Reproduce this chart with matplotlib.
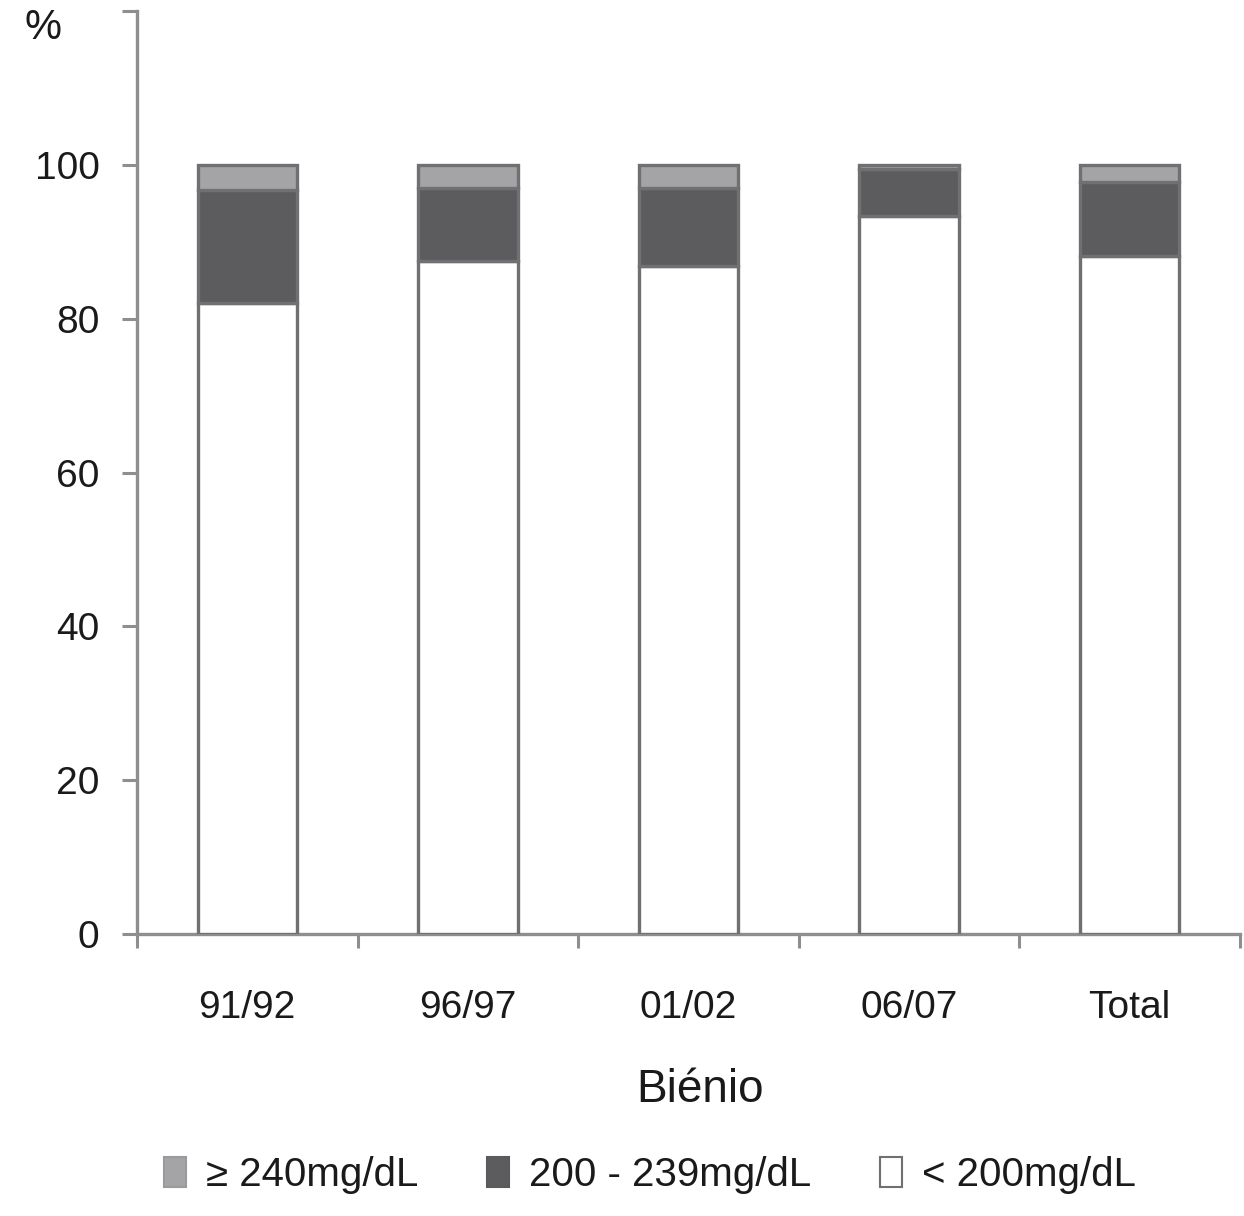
import matplotlib
matplotlib.use("Agg")
import matplotlib.pyplot as plt
from matplotlib.patches import Patch
import numpy as np

categories = ["91/92", "96/97", "01/02", "06/07", "Total"]
below_200 = [82.0, 87.5, 86.8, 93.4, 88.2]
between_200_239 = [14.7, 9.5, 10.2, 6.1, 9.6]
above_240 = [3.3, 3.0, 3.0, 0.5, 2.2]
series_labels = ["≥ 240mg/dL", "200 - 239mg/dL", "< 200mg/dL"]
yticks = [0, 20, 40, 60, 80, 100, 120]
ytick_labels = ["0", "20", "40", "60", "80", "100", ""]

c_light = "#a4a4a6"
c_dark = "#5c5c5e"
c_white = "#ffffff"
edge = "#707072"
axis_c = "#8e8e90"

plt.rcParams['font.family'] = ['Liberation Sans', 'DejaVu Sans']

fig = plt.figure(figsize=(12.44, 12.16), dpi=100)
ax = fig.add_axes([0.1101, 0.2319, 0.8867, 0.7590])

x = np.arange(len(categories)) + 0.5
w = 0.45
b1 = np.array(below_200)
b2 = b1 + np.array(between_200_239)
ax.bar(x, below_200, w, color=c_white, edgecolor=edge, linewidth=2.4, zorder=3)
ax.bar(x, between_200_239, w, bottom=b1, color=c_dark, edgecolor=edge, linewidth=2.4, zorder=3)
ax.bar(x, above_240, w, bottom=b2, color=c_light, edgecolor=edge, linewidth=2.4, zorder=3)

ax.set_xlim(0, len(categories))
ax.set_ylim(0, 120)

for s in ["top", "right"]:
    ax.spines[s].set_visible(False)
for s in ["left", "bottom"]:
    ax.spines[s].set_color(axis_c)
    ax.spines[s].set_linewidth(2.4)

ax.set_yticks(yticks)
ax.set_yticklabels(ytick_labels)
ax.tick_params(axis='y', direction='out', length=11, width=2.2, color=axis_c,
               pad=16, labelsize=28, labelcolor="#1a1a1a")

ax.set_xticks(np.arange(len(categories) + 1))
ax.set_xticklabels([])
ax.set_xticks(x, minor=True)
ax.set_xticklabels(categories, minor=True)
ax.tick_params(axis='x', which='major', direction='out', length=10, width=2.2, color=axis_c)
ax.tick_params(axis='x', which='minor', length=0, pad=40, labelsize=28, labelcolor="#1a1a1a")

fig.text(25 / 1244, 1 - 28 / 1216, "%", fontsize=30, ha='left', va='center', color="#1a1a1a")
fig.text(700 / 1244, 1 - 1090 / 1216, "Biénio", fontsize=33, ha='center', va='center', color="#1a1a1a")

handles = [Patch(facecolor=c_light, edgecolor="#9a9a9c", linewidth=1.5),
           Patch(facecolor=c_dark, edgecolor="#5a5a5c", linewidth=1.5),
           Patch(facecolor=c_white, edgecolor=edge, linewidth=1.5)]
leg = fig.legend(handles, series_labels, loc='center', bbox_to_anchor=(650 / 1244, 1 - 1175 / 1216),
                 ncol=3, frameon=False, handlelength=0.55, handleheight=0.8,
                 handletextpad=0.5, columnspacing=1.7,
                 prop={'family': ['Liberation Sans Narrow', 'Liberation Sans', 'DejaVu Sans'], 'size': 29})
for t in leg.get_texts():
    t.set_color("#1a1a1a")

fig.savefig("out.png", dpi=100)
